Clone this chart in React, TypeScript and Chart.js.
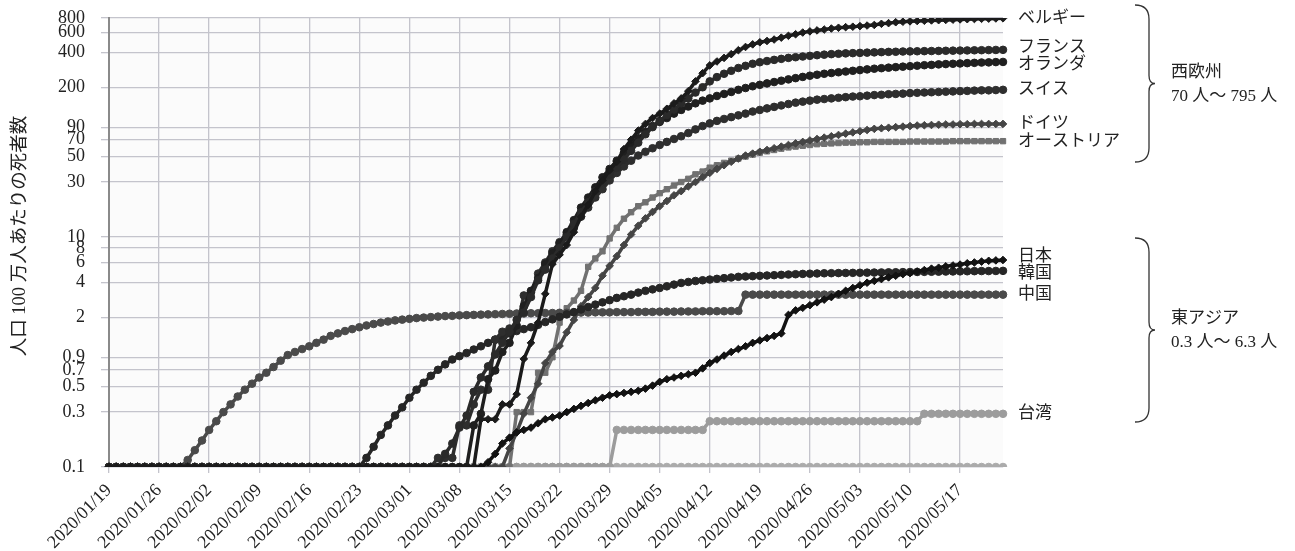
import React, { useEffect, useRef } from 'react';
import { Chart, registerables } from 'chart.js';

Chart.register(...registerables);

// ---------- categories (daily, 2020/01/19 .. 2020/05/23) ----------
const START_DATE = [2020, 0, 19];
const DAY_COUNT = 126;
const dates: string[] = [];
for (let i = 0; i < DAY_COUNT; i++) {
  const t = new Date(Date.UTC(START_DATE[0], START_DATE[1], START_DATE[2] + i));
  dates.push(
    `${t.getUTCFullYear()}/${String(t.getUTCMonth() + 1).padStart(2, '0')}/${String(t.getUTCDate()).padStart(2, '0')}`
  );
}

// ---------- y tick labels ----------
const yTicks = [0.1, 0.3, 0.5, 0.7, 0.9, 2, 4, 6, 8, 10, 30, 50, 70, 90, 200, 400, 600, 800];
const yTickLabels = ['0.1', '0.3', '0.5', '0.7', '0.9', '2', '4', '6', '8', '10', '30', '50', '70', '90', '200', '400', '600', '800'];

// ---------- series (deaths per million, 0 shown as 0.1) ----------
const belgium = [
  0.1, 0.1, 0.1, 0.1, 0.1, 0.1, 0.1,
  0.1, 0.1, 0.1, 0.1, 0.1, 0.1, 0.1,
  0.1, 0.1, 0.1, 0.1, 0.1, 0.1, 0.1,
  0.1, 0.1, 0.1, 0.1, 0.1, 0.1, 0.1,
  0.1, 0.1, 0.1, 0.1, 0.1, 0.1, 0.1,
  0.1, 0.1, 0.1, 0.1, 0.1, 0.1, 0.1,
  0.1, 0.1, 0.1, 0.1, 0.1, 0.1, 0.1,
  0.1, 0.1, 0.1, 0.26, 0.26, 0.26, 0.35,
  0.35, 0.43, 0.87, 1.2, 1.8, 3.2, 5.8,
  7.0, 8.5, 11, 15, 19, 25, 31,
  38, 45, 58, 70, 84, 96, 108,
  118, 130, 145, 160, 185, 225, 265,
  310, 335, 360, 388, 420, 448, 472,
  492, 505, 520, 540, 560, 578, 598,
  612, 624, 635, 648, 658, 666, 672,
  680, 688, 696, 712, 722, 735, 742,
  748, 753, 757, 762, 766, 770, 774,
  778, 781, 784, 787, 790, 793, 795,
];
const france = [
  0.1, 0.1, 0.1, 0.1, 0.1, 0.1, 0.1,
  0.1, 0.1, 0.1, 0.1, 0.1, 0.1, 0.1,
  0.1, 0.1, 0.1, 0.1, 0.1, 0.1, 0.1,
  0.1, 0.1, 0.1, 0.1, 0.1, 0.1, 0.1,
  0.1, 0.1, 0.1, 0.1, 0.1, 0.1, 0.1,
  0.1, 0.1, 0.1, 0.1, 0.1, 0.1, 0.1,
  0.1, 0.1, 0.1, 0.1, 0.1, 0.13, 0.16,
  0.22, 0.28, 0.45, 0.6, 0.75, 0.95, 1.2,
  1.5, 1.9, 2.2, 3.0, 4.2, 5.2, 6.5,
  8, 10, 13, 16.4, 20, 25, 30,
  35, 40, 47, 56, 66, 78, 90,
  102, 115, 128, 145, 160, 180, 200,
  225, 245, 262, 278, 294, 307, 320,
  330, 338, 346, 353, 360, 365, 370,
  375, 380, 384, 388, 391, 394, 396,
  398, 400, 402, 404, 406, 407, 409,
  410, 411, 412, 413, 414, 415, 416,
  417, 418, 419, 420, 421, 422, 423,
];
const netherlands = [
  0.1, 0.1, 0.1, 0.1, 0.1, 0.1, 0.1,
  0.1, 0.1, 0.1, 0.1, 0.1, 0.1, 0.1,
  0.1, 0.1, 0.1, 0.1, 0.1, 0.1, 0.1,
  0.1, 0.1, 0.1, 0.1, 0.1, 0.1, 0.1,
  0.1, 0.1, 0.1, 0.1, 0.1, 0.1, 0.1,
  0.1, 0.1, 0.1, 0.1, 0.1, 0.1, 0.1,
  0.1, 0.1, 0.1, 0.1, 0.1, 0.1, 0.1,
  0.1, 0.1, 0.23, 0.29, 0.58, 0.69, 1.0,
  1.2, 1.7, 2.5, 3.4, 4.4, 5.8, 7.2,
  8.8, 11, 14, 18, 22, 27, 33,
  39, 46, 54, 62, 72, 82, 92,
  100, 108, 118, 127, 136, 145, 153,
  160, 168, 175, 182, 190, 197, 204,
  210, 216, 222, 228, 234, 240, 246,
  252, 257, 262, 266, 270, 274, 278,
  282, 286, 290, 293, 296, 299, 302,
  305, 308, 311, 313, 316, 318, 320,
  322, 324, 326, 328, 329, 331, 332,
];
const switzerland = [
  0.1, 0.1, 0.1, 0.1, 0.1, 0.1, 0.1,
  0.1, 0.1, 0.1, 0.1, 0.1, 0.1, 0.1,
  0.1, 0.1, 0.1, 0.1, 0.1, 0.1, 0.1,
  0.1, 0.1, 0.1, 0.1, 0.1, 0.1, 0.1,
  0.1, 0.1, 0.1, 0.1, 0.1, 0.1, 0.1,
  0.1, 0.1, 0.1, 0.1, 0.1, 0.1, 0.1,
  0.1, 0.1, 0.1, 0.1, 0.12, 0.12, 0.12,
  0.23, 0.23, 0.35, 0.47, 0.47, 1.28, 1.5,
  1.6, 1.6, 3.1, 3.3, 4.8, 6.0, 7.5,
  9.0, 10.5, 12, 15, 18, 22, 26,
  31, 36, 41, 46, 51, 55, 59,
  63, 67, 71, 75, 80, 86, 92,
  97, 102, 106, 110, 114, 118, 123,
  127, 131, 135, 139, 143, 147, 150,
  153, 156, 158, 160, 162, 164, 166,
  167, 169, 171, 172, 174, 175, 176,
  178, 179, 180, 181, 182, 183, 184,
  185, 186, 187, 188, 188, 189, 190,
];
const germany = [
  0.1, 0.1, 0.1, 0.1, 0.1, 0.1, 0.1,
  0.1, 0.1, 0.1, 0.1, 0.1, 0.1, 0.1,
  0.1, 0.1, 0.1, 0.1, 0.1, 0.1, 0.1,
  0.1, 0.1, 0.1, 0.1, 0.1, 0.1, 0.1,
  0.1, 0.1, 0.1, 0.1, 0.1, 0.1, 0.1,
  0.1, 0.1, 0.1, 0.1, 0.1, 0.1, 0.1,
  0.1, 0.1, 0.1, 0.1, 0.1, 0.1, 0.1,
  0.1, 0.1, 0.1, 0.1, 0.1, 0.1, 0.1,
  0.145, 0.2, 0.29, 0.4, 0.53, 0.8, 1.0,
  1.13, 1.48, 1.9, 2.5, 3.0, 3.6, 4.6,
  5.6, 6.8, 8.5, 10.5, 12.5, 14.5, 16.5,
  18.5, 20.5, 23, 25, 27.5, 30, 33,
  36, 39, 42, 45, 48, 51, 53,
  55, 57, 59, 61, 63, 65, 67,
  69, 71, 73, 75, 77, 79, 81,
  83, 85, 87, 88, 89, 90, 91,
  92, 93, 93.5, 94, 94.5, 95, 95,
  95.5, 95.5, 96, 96, 96, 96, 96,
];
const austria = [
  0.1, 0.1, 0.1, 0.1, 0.1, 0.1, 0.1,
  0.1, 0.1, 0.1, 0.1, 0.1, 0.1, 0.1,
  0.1, 0.1, 0.1, 0.1, 0.1, 0.1, 0.1,
  0.1, 0.1, 0.1, 0.1, 0.1, 0.1, 0.1,
  0.1, 0.1, 0.1, 0.1, 0.1, 0.1, 0.1,
  0.1, 0.1, 0.1, 0.1, 0.1, 0.1, 0.1,
  0.1, 0.1, 0.1, 0.1, 0.1, 0.1, 0.1,
  0.1, 0.1, 0.1, 0.1, 0.1, 0.1, 0.1,
  0.1, 0.3, 0.3, 0.3, 0.66, 0.66, 0.9,
  1.8, 2.4, 2.8, 3.4, 5.5, 6.5, 7.5,
  9.7, 12, 14.4, 16.4, 18.5, 20, 22,
  24, 26, 28, 30, 32, 35, 37,
  40, 42, 44, 46, 48, 50, 52,
  54, 55.5, 57, 58.5, 60, 61, 62,
  63, 64, 64.5, 65, 65.5, 66, 66,
  66.5, 66.5, 67, 67, 67, 67, 67,
  67.5, 67.5, 67.5, 67.5, 67.5, 67.5, 68,
  68, 68, 68, 68, 68, 68, 68,
];
const japan = [
  0.1, 0.1, 0.1, 0.1, 0.1, 0.1, 0.1,
  0.1, 0.1, 0.1, 0.1, 0.1, 0.1, 0.1,
  0.1, 0.1, 0.1, 0.1, 0.1, 0.1, 0.1,
  0.1, 0.1, 0.1, 0.1, 0.1, 0.1, 0.1,
  0.1, 0.1, 0.1, 0.1, 0.1, 0.1, 0.1,
  0.1, 0.1, 0.1, 0.1, 0.1, 0.1, 0.1,
  0.1, 0.1, 0.1, 0.1, 0.1, 0.1, 0.1,
  0.1, 0.1, 0.1, 0.1, 0.11, 0.13, 0.16,
  0.18, 0.2, 0.21, 0.22, 0.24, 0.26, 0.27,
  0.28, 0.3, 0.32, 0.34, 0.36, 0.38, 0.4,
  0.42, 0.43, 0.44, 0.45, 0.46, 0.48, 0.51,
  0.55, 0.58, 0.6, 0.62, 0.64, 0.66, 0.72,
  0.8, 0.86, 0.93, 1.0, 1.06, 1.12, 1.2,
  1.26, 1.32, 1.38, 1.45, 2.1, 2.3, 2.42,
  2.55, 2.7, 2.85, 3.0, 3.2, 3.4, 3.6,
  3.8, 4.0, 4.15, 4.3, 4.45, 4.6, 4.75,
  4.85, 5.0, 5.15, 5.3, 5.4, 5.55, 5.65,
  5.75, 5.9, 6.0, 6.1, 6.2, 6.25, 6.3,
];
const korea = [
  0.1, 0.1, 0.1, 0.1, 0.1, 0.1, 0.1,
  0.1, 0.1, 0.1, 0.1, 0.1, 0.1, 0.1,
  0.1, 0.1, 0.1, 0.1, 0.1, 0.1, 0.1,
  0.1, 0.1, 0.1, 0.1, 0.1, 0.1, 0.1,
  0.1, 0.1, 0.1, 0.1, 0.1, 0.1, 0.1,
  0.1, 0.12, 0.15, 0.19, 0.23, 0.28, 0.33,
  0.4, 0.47, 0.54, 0.62, 0.7, 0.78, 0.86,
  0.92, 0.98, 1.05, 1.12, 1.2, 1.28, 1.36,
  1.45, 1.52, 1.58, 1.64, 1.72, 1.82, 1.92,
  2.02, 2.12, 2.22, 2.34, 2.46, 2.58, 2.7,
  2.82, 2.95, 3.05, 3.15, 3.28, 3.4, 3.5,
  3.6, 3.72, 3.85, 3.98, 4.06, 4.14, 4.2,
  4.26, 4.32, 4.38, 4.44, 4.5, 4.53, 4.56,
  4.59, 4.62, 4.65, 4.68, 4.71, 4.74, 4.77,
  4.79, 4.81, 4.83, 4.84, 4.85, 4.86, 4.87,
  4.88, 4.89, 4.9, 4.91, 4.92, 4.93, 4.94,
  4.95, 4.96, 4.97, 4.98, 4.99, 5.0, 5.01,
  5.02, 5.03, 5.04, 5.05, 5.05, 5.06, 5.07,
];
const china = [
  0.1, 0.1, 0.1, 0.1, 0.1, 0.1, 0.1,
  0.1, 0.1, 0.1, 0.1, 0.115, 0.14, 0.17,
  0.21, 0.25, 0.3, 0.35, 0.41, 0.47, 0.53,
  0.6, 0.66, 0.74, 0.84, 0.94, 1.0, 1.06,
  1.12, 1.2, 1.28, 1.38, 1.45, 1.52, 1.58,
  1.64, 1.7, 1.75, 1.8, 1.84, 1.88, 1.91,
  1.94, 1.97, 1.99, 2.01, 2.03, 2.05, 2.06,
  2.08, 2.09, 2.1, 2.11, 2.12, 2.13, 2.14,
  2.15, 2.16, 2.16, 2.17, 2.17, 2.18, 2.18,
  2.19, 2.19, 2.2, 2.2, 2.2, 2.21, 2.21,
  2.21, 2.22, 2.22, 2.22, 2.23, 2.23, 2.23,
  2.24, 2.24, 2.24, 2.25, 2.25, 2.25, 2.26,
  2.26, 2.26, 2.26, 2.27, 2.27, 3.15, 3.15,
  3.15, 3.15, 3.15, 3.15, 3.15, 3.15, 3.15,
  3.15, 3.15, 3.15, 3.15, 3.15, 3.15, 3.15,
  3.15, 3.15, 3.15, 3.15, 3.15, 3.15, 3.15,
  3.15, 3.15, 3.15, 3.15, 3.15, 3.15, 3.15,
  3.15, 3.15, 3.15, 3.15, 3.15, 3.15, 3.15,
];
const taiwan = [
  0.1, 0.1, 0.1, 0.1, 0.1, 0.1, 0.1,
  0.1, 0.1, 0.1, 0.1, 0.1, 0.1, 0.1,
  0.1, 0.1, 0.1, 0.1, 0.1, 0.1, 0.1,
  0.1, 0.1, 0.1, 0.1, 0.1, 0.1, 0.1,
  0.1, 0.1, 0.1, 0.1, 0.1, 0.1, 0.1,
  0.1, 0.1, 0.1, 0.1, 0.1, 0.1, 0.1,
  0.1, 0.1, 0.1, 0.1, 0.1, 0.1, 0.1,
  0.1, 0.1, 0.1, 0.1, 0.1, 0.1, 0.1,
  0.1, 0.1, 0.1, 0.1, 0.1, 0.1, 0.1,
  0.1, 0.1, 0.1, 0.1, 0.1, 0.1, 0.1,
  0.1, 0.21, 0.21, 0.21, 0.21, 0.21, 0.21,
  0.21, 0.21, 0.21, 0.21, 0.21, 0.21, 0.21,
  0.25, 0.25, 0.25, 0.25, 0.25, 0.25, 0.25,
  0.25, 0.25, 0.25, 0.25, 0.25, 0.25, 0.25,
  0.25, 0.25, 0.25, 0.25, 0.25, 0.25, 0.25,
  0.25, 0.25, 0.25, 0.25, 0.25, 0.25, 0.25,
  0.25, 0.25, 0.29, 0.29, 0.29, 0.29, 0.29,
  0.29, 0.29, 0.29, 0.29, 0.29, 0.29, 0.29,
];
// unlabeled light-grey series that stays at the 0.1 floor
const unlabeled = [
  0.1, 0.1, 0.1, 0.1, 0.1, 0.1, 0.1,
  0.1, 0.1, 0.1, 0.1, 0.1, 0.1, 0.1,
  0.1, 0.1, 0.1, 0.1, 0.1, 0.1, 0.1,
  0.1, 0.1, 0.1, 0.1, 0.1, 0.1, 0.1,
  0.1, 0.1, 0.1, 0.1, 0.1, 0.1, 0.1,
  0.1, 0.1, 0.1, 0.1, 0.1, 0.1, 0.1,
  0.1, 0.1, 0.1, 0.1, 0.1, 0.1, 0.1,
  0.1, 0.1, 0.1, 0.1, 0.1, 0.1, 0.1,
  0.1, 0.1, 0.1, 0.1, 0.1, 0.1, 0.1,
  0.1, 0.1, 0.1, 0.1, 0.1, 0.1, 0.1,
  0.1, 0.1, 0.1, 0.1, 0.1, 0.1, 0.1,
  0.1, 0.1, 0.1, 0.1, 0.1, 0.1, 0.1,
  0.1, 0.1, 0.1, 0.1, 0.1, 0.1, 0.1,
  0.1, 0.1, 0.1, 0.1, 0.1, 0.1, 0.1,
  0.1, 0.1, 0.1, 0.1, 0.1, 0.1, 0.1,
  0.1, 0.1, 0.1, 0.1, 0.1, 0.1, 0.1,
  0.1, 0.1, 0.1, 0.1, 0.1, 0.1, 0.1,
  0.1, 0.1, 0.1, 0.1, 0.1, 0.1, 0.1,
];

const seriesNames = ['ベルギー', 'フランス', 'オランダ', 'スイス', '日本', '韓国', '中国', 'ドイツ', 'オーストリア', '台湾', ''];
const seriesData = [belgium, france, netherlands, switzerland, japan, korea, china, germany, austria, taiwan, unlabeled];
const seriesColors = ['#1b1b1b', '#2a2a2a', '#1f1f1f', '#2e2e2e', '#121212', '#262626', '#4a4a4a', '#454545', '#717171', '#9c9c9c', '#ababab'];
const seriesMarkers = ['rectRot', 'circle', 'circle', 'circle', 'rectRot', 'circle', 'circle', 'rectRot', 'rect', 'circle', 'circle'];

const groupTitles = ['西欧州', '東アジア'];
const groupRanges = ['70 人～ 795 人', '0.3 人～ 6.3 人'];
const yAxisTitle = '人口 100 万人あたりの死者数';

const SERIF = '"Liberation Serif", "Times New Roman", "Noto Sans CJK JP", serif';
const JP = '"Liberation Serif", "Noto Sans CJK JP", serif';

const annotationPlugin = {
  id: 'annotations',
  beforeDraw(chart: any) {
    const { ctx, chartArea } = chart;
    ctx.save();
    ctx.fillStyle = '#fbfbfb';
    ctx.fillRect(chartArea.left, chartArea.top, chartArea.right - chartArea.left, chartArea.bottom - chartArea.top);
    ctx.restore();
  },
  afterDraw(chart: any) {
    const { ctx, chartArea, scales } = chart;
    const y = scales.y;
    ctx.save();
    // y axis title
    ctx.translate(20, 236);
    ctx.rotate(-Math.PI / 2);
    ctx.font = `18.5px ${JP}`;
    ctx.fillStyle = '#222';
    ctx.textAlign = 'center';
    ctx.textBaseline = 'middle';
    ctx.fillText(yAxisTitle, 0, 0);
    ctx.restore();

    // right-hand labels at series end values, spread to avoid overlap
    const items: { name: string; y: number }[] = [];
    seriesData.forEach((arr, i) => {
      if (!seriesNames[i]) return;
      items.push({ name: seriesNames[i], y: y.getPixelForValue(arr[arr.length - 1]) });
    });
    items.sort((a, b) => a.y - b.y);
    const gap = 17;
    for (let iter = 0; iter < 20; iter++) {
      for (let k = 1; k < items.length; k++) {
        const d = items[k].y - items[k - 1].y;
        if (d < gap) {
          const push = (gap - d) / 2;
          items[k].y += push;
          items[k - 1].y -= push;
        }
      }
    }
    ctx.save();
    ctx.font = `17px ${JP}`;
    ctx.fillStyle = '#222';
    ctx.textAlign = 'left';
    ctx.textBaseline = 'middle';
    items.forEach((it) => ctx.fillText(it.name, chartArea.right + 15, it.y));
    ctx.restore();

    // braces and group labels
    const braces = [
      { top: 5, bottom: 162 },
      { top: 238, bottom: 422 },
    ];
    ctx.save();
    ctx.strokeStyle = '#333';
    ctx.lineWidth = 1.3;
    const x0 = 1149;
    braces.forEach((b, gi) => {
      const mid = (b.top + b.bottom) / 2;
      ctx.beginPath();
      ctx.moveTo(x0 - 14, b.top);
      ctx.quadraticCurveTo(x0, b.top, x0, b.top + 14);
      ctx.lineTo(x0, mid - 8);
      ctx.quadraticCurveTo(x0, mid, x0 + 6, mid);
      ctx.quadraticCurveTo(x0, mid, x0, mid + 8);
      ctx.lineTo(x0, b.bottom - 14);
      ctx.quadraticCurveTo(x0, b.bottom, x0 - 14, b.bottom);
      ctx.stroke();
      ctx.font = `17px ${JP}`;
      ctx.fillStyle = '#222';
      ctx.textAlign = 'left';
      ctx.textBaseline = 'middle';
      ctx.fillText(groupTitles[gi], 1171, mid - 11);
      ctx.fillText(groupRanges[gi], 1171, mid + 13);
    });
    ctx.restore();
  },
};

export default function App() {
  const ref = useRef<HTMLCanvasElement | null>(null);
  useEffect(() => {
    if (!ref.current) return;
    const chart = new Chart(ref.current, {
      type: 'line',
      data: {
        labels: dates,
        datasets: seriesData.map((arr, i) => ({
          label: seriesNames[i] || 'その他',
          data: arr,
          borderColor: seriesColors[i],
          backgroundColor: seriesColors[i],
          pointBackgroundColor: seriesColors[i],
          pointBorderColor: seriesColors[i],
          pointStyle: seriesMarkers[i] as any,
          pointRadius: 3.8,
          pointBorderWidth: 1,
          borderWidth: 3.5,
          tension: 0,
          fill: false,
        })),
      },
      options: {
        animation: false,
        responsive: false,
        maintainAspectRatio: false,
        layout: { padding: { left: 0, right: 292, top: 18, bottom: 0 } },
        plugins: { legend: { display: false }, tooltip: { enabled: false }, title: { display: false } },
        scales: {
          x: {
            type: 'category',
            offset: false,
            grid: { color: '#c4c4cc', lineWidth: 1.3, tickLength: 6, drawTicks: true },
            border: { color: '#c4c4cc', width: 1.3 },
            ticks: {
              autoSkip: false,
              minRotation: 45,
              maxRotation: 45,
              padding: 7,
              color: '#222',
              font: { family: SERIF, size: 18 },
              callback: (_v: any, i: number) => (i % 7 === 0 ? dates[i] : null),
            },
            afterFit: (s: any) => {
              s.height = 84;
              s.paddingLeft = 0;
              s.paddingRight = 0;
            },
          },
          y: {
            type: 'logarithmic',
            min: 0.1,
            max: 800,
            afterBuildTicks: (s: any) => {
              s.ticks = yTicks.map((v) => ({ value: v }));
            },
            grid: { color: '#c4c4cc', lineWidth: 1.3, tickLength: 8, drawTicks: true },
            border: { color: '#8a8a8a', width: 2 },
            ticks: {
              padding: 16,
              color: '#222',
              font: { family: SERIF, size: 18 },
              callback: (v: any) => {
                const idx = yTicks.findIndex((t) => Math.abs(t - Number(v)) < 1e-9);
                return idx >= 0 ? yTickLabels[idx] : null;
              },
            },
            afterFit: (s: any) => {
              s.width = 109;
              s.paddingTop = 0;
              s.paddingBottom = 0;
            },
          },
        },
      },
      plugins: [annotationPlugin],
    });
    return () => chart.destroy();
  }, []);
  return (
    <div style={{ position: 'absolute', left: 0, top: 0, width: 1295, height: 551, background: '#fff' }}>
      <canvas ref={ref} width={1295} height={551} style={{ width: 1295, height: 551, display: 'block' }} />
    </div>
  );
}
